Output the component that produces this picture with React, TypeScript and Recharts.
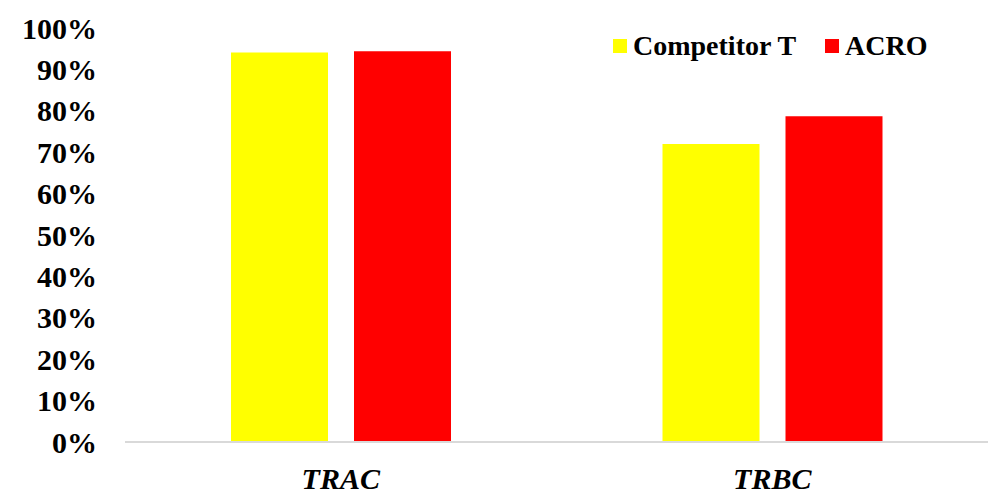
import { BarChart, Bar, XAxis, YAxis, Legend } from "recharts";

const categories = ["TRAC", "TRBC"];
const competitorT = [94.1, 72.0];
const acro = [94.4, 78.7];
const yTicks = [0, 10, 20, 30, 40, 50, 60, 70, 80, 90, 100];

const data = categories.map((name, i) => ({
  name,
  competitor: competitorT[i],
  acro: acro[i],
}));

const font = "'Liberation Serif', 'Times New Roman', serif";

const legendItems = [
  { label: "Competitor T", color: "#ffff00" },
  { label: "ACRO", color: "#ff0000" },
];

function LegendContent() {
  return (
    <div style={{ display: "flex", alignItems: "center", fontFamily: font, fontWeight: 700, fontSize: 28, lineHeight: 1, color: "#000" }}>
      {legendItems.map((item, i) => (
        <div key={item.label} style={{ display: "flex", alignItems: "center", marginRight: i === 0 ? 29 : 0 }}>
          <span style={{ width: 14, height: 14, background: item.color, marginRight: 6, display: "inline-block" }} />
          <span style={{ whiteSpace: "nowrap" }}>{item.label}</span>
        </div>
      ))}
    </div>
  );
}

export default function App() {
  return (
    <div style={{ position: "absolute", left: 0, top: 0, width: 1005, height: 498, background: "#fff" }}>
      <style>{"body{margin:0}"}</style>
      <BarChart
        width={1005}
        height={498}
        data={data}
        margin={{ top: 28, right: 17, bottom: 26, left: 0 }}
        barGap={26}
        style={{ fontFamily: font }}
      >
        <XAxis
          dataKey="name"
          height={30}
          axisLine={{ stroke: "#d9d9d9", strokeWidth: 2 }}
          tickLine={false}
          tickSize={0}
          tickMargin={26}
          tick={{ fill: "#000", fontSize: 30, fontWeight: 700, fontStyle: "italic", fontFamily: font }}
        />
        <YAxis
          width={125}
          domain={[0, 100]}
          ticks={yTicks}
          interval={0}
          tickFormatter={(v) => `${v}%`}
          axisLine={false}
          tickLine={false}
          tickSize={0}
          tickMargin={28}
          tick={{ fill: "#000", fontSize: 30, fontWeight: 700, fontFamily: font }}
        />
        <Legend
          layout="vertical"
          align="center"
          verticalAlign="middle"
          content={<LegendContent />}
          wrapperStyle={{ top: 32, left: 613, width: "auto", height: "auto" }}
        />
        <Bar dataKey="competitor" name="Competitor T" fill="#ffff00" barSize={97} isAnimationActive={false} />
        <Bar dataKey="acro" name="ACRO" fill="#ff0000" barSize={97} isAnimationActive={false} />
      </BarChart>
    </div>
  );
}
